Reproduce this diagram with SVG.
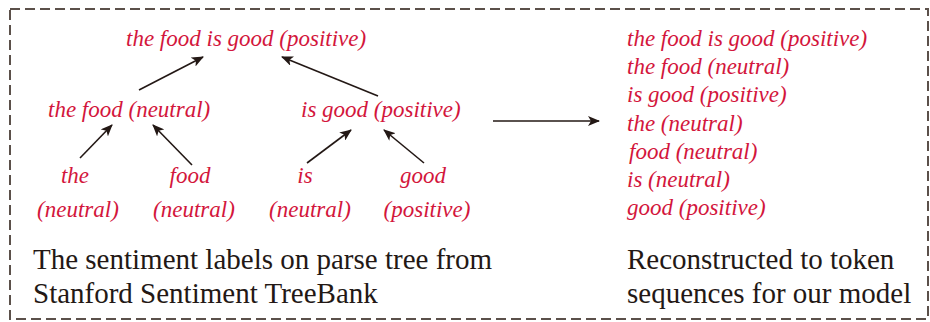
<svg xmlns="http://www.w3.org/2000/svg" width="930" height="322" viewBox="0 0 930 322">
<style>
.lbl{font-family:"Liberation Serif","Times New Roman",serif;font-style:italic;font-size:23px;fill:#d3163c}
.cap{font-family:"Liberation Serif","Times New Roman",serif;font-size:29px;fill:#231815}
.edge{stroke:#231815;stroke-width:1.6;fill:none;marker-end:url(#ah)}
.frame{fill:none;stroke:#5b504a;stroke-width:2;stroke-dasharray:10 5}
</style>
<defs>
<marker id="ah" markerWidth="12" markerHeight="10" refX="11" refY="5" orient="auto" markerUnits="userSpaceOnUse">
<path d="M0,0 L12,5 L0,10 L3,5 Z" fill="#231815"/>
</marker>
</defs>
<rect fill="#ffffff" x="0" y="0" width="930" height="322"/>
<rect class="frame" x="10" y="9" width="918" height="310"/>
<g id="connectors">
<line class="edge" x1="139" y1="90" x2="203" y2="57"/>
<line class="edge" x1="378" y1="96" x2="282" y2="57"/>
<line class="edge" x1="80" y1="158" x2="112" y2="125"/>
<line class="edge" x1="192" y1="165" x2="153" y2="125"/>
<line class="edge" x1="307" y1="163" x2="351" y2="130"/>
<line class="edge" x1="424" y1="163" x2="384" y2="130"/>
<line class="edge" x1="493" y1="121" x2="599" y2="121"/>
</g>
<g id="root"><text class="lbl" x="126" y="46">the food is good (positive)</text></g>
<g id="the-food"><text class="lbl" x="48" y="117">the food (neutral)</text></g>
<g id="is-good"><text class="lbl" x="301" y="117">is good (positive)</text></g>
<g id="the"><text class="lbl" text-anchor="middle" x="75" y="183">the</text><text class="lbl" text-anchor="middle" x="78" y="217">(neutral)</text></g>
<g id="food"><text class="lbl" text-anchor="middle" x="190" y="183">food</text><text class="lbl" text-anchor="middle" x="194" y="217">(neutral)</text></g>
<g id="is"><text class="lbl" text-anchor="middle" x="305" y="183">is</text><text class="lbl" text-anchor="middle" x="310" y="217">(neutral)</text></g>
<g id="good"><text class="lbl" text-anchor="middle" x="423" y="183">good</text><text class="lbl" text-anchor="middle" x="427" y="217">(positive)</text></g>
<g id="sequences">
<text class="lbl" x="627" y="46">the food is good (positive)</text>
<text class="lbl" x="627" y="74">the food (neutral)</text>
<text class="lbl" x="627" y="102">is good (positive)</text>
<text class="lbl" x="627" y="131">the (neutral)</text>
<text class="lbl" x="629" y="159">food (neutral)</text>
<text class="lbl" x="627" y="187">is (neutral)</text>
<text class="lbl" x="627" y="215">good (positive)</text>
</g>
<g id="caption-left"><text class="cap" x="33" y="269">The sentiment labels on parse tree from</text><text class="cap" x="33" y="303">Stanford Sentiment TreeBank</text></g>
<g id="caption-right"><text class="cap" x="627" y="269">Reconstructed to token</text><text class="cap" x="627" y="303">sequences for our model</text></g>
</svg>
